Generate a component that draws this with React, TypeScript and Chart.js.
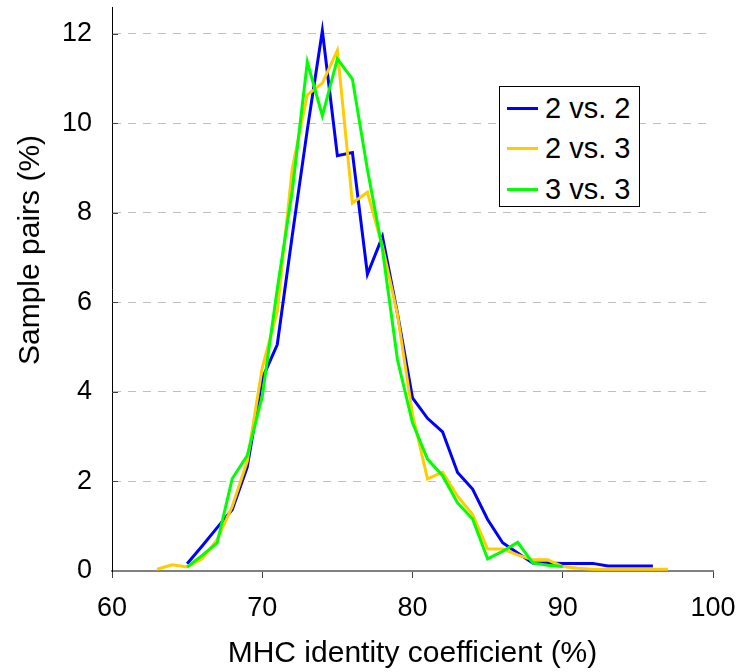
import React, { useEffect, useRef } from "react";
import { Chart, registerables } from "chart.js";

Chart.register(...registerables);

// Identity coefficient categories (%)
const xValues = [63, 64, 65, 66, 67, 68, 69, 70, 71, 72, 73, 74, 75, 76, 77, 78, 79, 80, 81, 82, 83, 84, 85, 86, 87, 88, 89, 90, 91, 92, 93, 94, 95, 96, 97];

const series22 = [null, null, 0.16, 0.56, 0.97, 1.37, 2.32, 4.3, 5.06, 7.5, 9.86, 12.07, 9.28, 9.35, 6.63, 7.47, 5.75, 3.87, 3.41, 3.11, 2.2, 1.83, 1.15, 0.63, 0.4, 0.18, 0.18, 0.17, 0.17, 0.17, 0.11, 0.11, 0.11, 0.11, null];
const series23 = [0.04, 0.14, 0.09, 0.27, 0.7, 1.44, 2.45, 4.54, 5.8, 9.0, 10.64, 10.9, 11.63, 8.22, 8.46, 7.25, 5.73, 3.5, 2.06, 2.21, 1.67, 1.26, 0.49, 0.49, 0.36, 0.25, 0.25, 0.1, 0.06, 0.04, 0.04, 0.04, 0.04, 0.04, 0.04];
const series33 = [null, null, 0.09, 0.35, 0.63, 2.06, 2.58, 3.9, 6.3, 8.5, 11.37, 10.17, 11.44, 10.99, 8.97, 7.18, 4.72, 3.31, 2.5, 2.13, 1.52, 1.16, 0.27, 0.44, 0.64, 0.18, 0.13, 0.1, null, null, null, null, null, null, null];

const seriesNames = ["2 vs. 2", "2 vs. 3", "3 vs. 3"];
const seriesColors = ["#0000ff", "#ffcc00", "#00ff00"];
const seriesValues = [series22, series23, series33];

const xTicks = [60, 70, 80, 90, 100];
const yTicks = [0, 2, 4, 6, 8, 10, 12];

const xTitle = "MHC identity coefficient (%)";
const yTitle = "Sample pairs (%)";

const FONT = "'Liberation Sans', Arial, Helvetica, sans-serif";

export default function App() {
  const canvasRef = useRef<HTMLCanvasElement | null>(null);

  useEffect(() => {
    if (!canvasRef.current) return;
    Chart.defaults.font.family = FONT;
    Chart.defaults.color = "#000000";

    const datasets = seriesValues.map((vals, i) => ({
      label: seriesNames[i],
      data: xValues
        .map((x, j) => ({ x, y: vals[j] }))
        .filter((p) => p.y !== null && p.y !== undefined),
      borderColor: seriesColors[i],
      backgroundColor: seriesColors[i],
      borderWidth: 3,
      pointRadius: 0,
      tension: 0,
      fill: false,
      order: seriesValues.length - i,
    }));

    const innerTicks = {
      id: "innerTicks",
      afterDraw(chart: any) {
        const ys = chart.scales.y;
        const ctx = chart.ctx;
        ctx.save();
        ctx.strokeStyle = "#404040";
        ctx.lineWidth = 1;
        for (const v of yTicks) {
          if (v === 0) continue;
          const py = Math.round(ys.getPixelForValue(v)) + 0.5;
          ctx.beginPath();
          ctx.moveTo(chart.chartArea.left, py);
          ctx.lineTo(chart.chartArea.left + 6, py);
          ctx.stroke();
        }
        ctx.restore();
      },
    };

    const chart = new Chart(canvasRef.current, {
      type: "line",
      data: { datasets },
      options: {
        animation: false,
        responsive: false,
        maintainAspectRatio: false,
        devicePixelRatio: 1,
        layout: { padding: { top: 7, right: 25, left: 0, bottom: 0 } },
        plugins: {
          legend: { display: false },
          tooltip: { enabled: false },
        },
        scales: {
          x: {
            type: "linear",
            min: xTicks[0],
            max: xTicks[xTicks.length - 1],
            afterBuildTicks: (scale: any) => {
              scale.ticks = xTicks.map((v) => ({ value: v }));
            },
            afterFit: (scale: any) => {
              scale.height = 101;
              scale.paddingLeft = 0;
              scale.paddingRight = 0;
            },
            ticks: {
              font: { size: 27 },
              color: "#000",
              padding: 14,
              maxRotation: 0,
              autoSkip: false,
            },
            grid: {
              drawOnChartArea: false,
              drawTicks: true,
              tickLength: 7,
              tickColor: "#404040",
              tickWidth: 1,
            },
            border: { display: true, color: "#808080", width: 2 },
            title: {
              display: true,
              text: xTitle,
              font: { size: 30 },
              color: "#000",
              padding: { top: 0, bottom: 0 },
            },
          },
          y: {
            type: "linear",
            min: 0,
            max: 12.6,
            afterBuildTicks: (scale: any) => {
              scale.ticks = yTicks.map((v) => ({ value: v }));
            },
            afterFit: (scale: any) => {
              scale.width = 112;
              scale.paddingTop = 0;
              scale.paddingBottom = 0;
            },
            ticks: {
              font: { size: 27 },
              color: "#000",
              padding: 20,
              autoSkip: false,
            },
            grid: {
              drawTicks: false,
              color: (ctx: any) => (ctx.tick && ctx.tick.value === 0 ? "rgba(0,0,0,0)" : "#c0c0c0"),
              lineWidth: 1,
            },
            border: { display: true, color: "#000000", width: 1, dash: [8, 7] },
            title: { display: false },
          },
        },
      },
      plugins: [innerTicks],
    });

    return () => chart.destroy();
  }, []);

  return (
    <div
      style={{
        position: "fixed",
        left: 0,
        top: 0,
        width: 738,
        height: 672,
        background: "#ffffff",
        overflow: "hidden",
      }}
    >
      <canvas ref={canvasRef} width={738} height={672} style={{ width: 738, height: 672, display: "block" }} />
      <div
        style={{
          position: "absolute",
          left: 29,
          top: 250,
          transform: "translate(-50%, -50%) rotate(-90deg)",
          whiteSpace: "nowrap",
          fontFamily: FONT,
          fontSize: 30,
          color: "#000",
          lineHeight: 1,
        }}
      >
        {yTitle}
      </div>
      <div
        style={{
          position: "absolute",
          left: 499,
          top: 86,
          width: 139,
          height: 119,
          border: "1px solid #000",
          background: "#fff",
          fontFamily: FONT,
        }}
      >
        {seriesNames.map((name, i) => (
          <div
            key={name}
            style={{
              position: "absolute",
              left: 0,
              top: 4 + i * 40.5,
              height: 34,
              display: "flex",
              alignItems: "center",
              whiteSpace: "nowrap",
            }}
          >
            <div style={{ marginLeft: 7, width: 31, height: 3, background: seriesColors[i] }} />
            <span style={{ marginLeft: 7, fontSize: 29, color: "#000", lineHeight: 1 }}>{name}</span>
          </div>
        ))}
      </div>
    </div>
  );
}
